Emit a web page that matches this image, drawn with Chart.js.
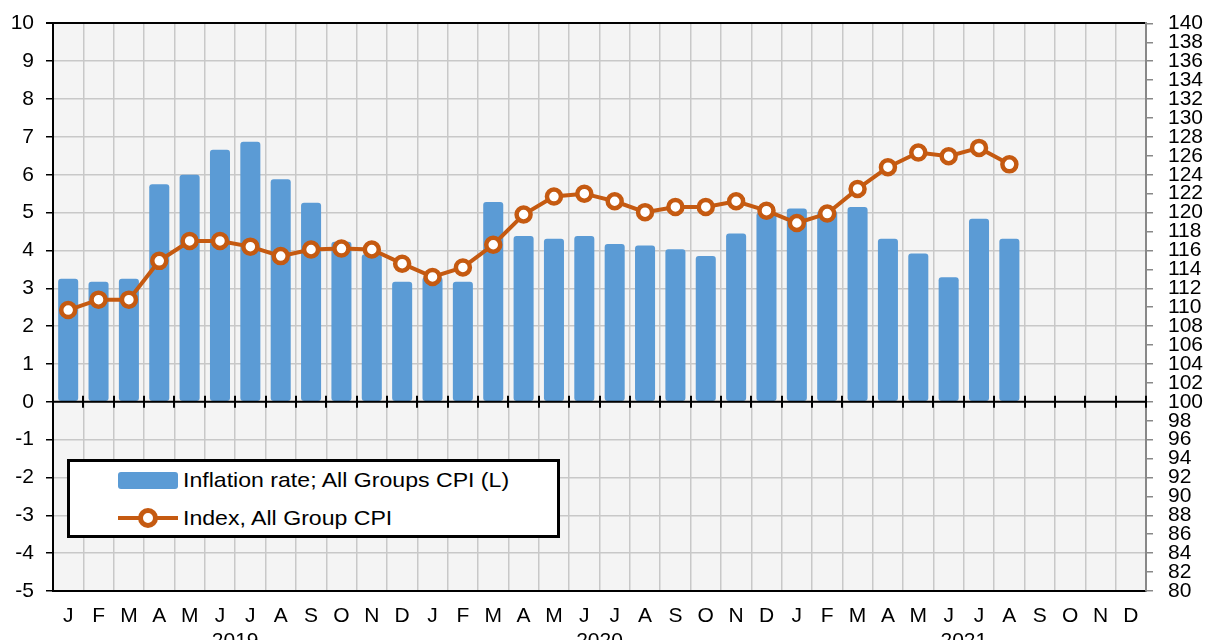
<!DOCTYPE html>
<html>
<head>
<meta charset="utf-8">
<script src="https://cdn.jsdelivr.net/npm/chart.js@4/dist/chart.umd.min.js"></script>
<style>
  html, body { margin: 0; padding: 0; background: #fff; }
  #wrap { position: relative; width: 1208px; height: 640px; overflow: hidden; }
  #legend {
    position: absolute; left: 67px; top: 459px; width: 487px; height: 73px;
    border: 3px solid #000; background: #fff;
    font-family: "Liberation Sans", Arial, sans-serif; font-size: 21px; color: #000;
  }
  .sym-bar { position: absolute; left: 48px; top: 10px; width: 60px; height: 17px; background: #5b9bd5; border-radius: 3px; }
  .sym-line { position: absolute; left: 48px; top: 54px; width: 60px; height: 4px; background: #c55a11; }
  .sym-dot { position: absolute; left: 68px; top: 46px; width: 10px; height: 10px; border: 5px solid #c55a11; border-radius: 50%; background: #fff; }
  .txt { position: absolute; left: 113px; line-height: 24px; white-space: nowrap; transform: scaleX(1.1); transform-origin: left center; }
</style>
</head>
<body>
<div id="wrap">
  <canvas id="cpiChart" width="1208" height="640"></canvas>
  <div id="legend">
    <div class="sym-bar"></div>
    <div class="txt" style="top:6px">Inflation rate; All Groups CPI (L)</div>
    <div class="sym-line"></div>
    <div class="sym-dot"></div>
    <div class="txt" style="top:44px">Index, All Group CPI</div>
  </div>
</div>
<script>
const months = ["J", "F", "M", "A", "M", "J", "J", "A", "S", "O", "N", "D"];
const monthLabels = [...months, ...months, ...months];
const years = ["2019", "2020", "2021"];

// inflation rate, % (left axis)
const inflationRate = [
  3.25, 3.17, 3.25, 5.75, 6.0, 6.66, 6.87, 5.88, 5.26, 4.23, 3.9, 3.17,
  3.3, 3.17, 5.28, 4.38, 4.31, 4.38, 4.17, 4.13, 4.03, 3.85, 4.45, 5.0,
  5.11, 5.05, 5.15, 4.31, 3.92, 3.29, 4.84, 4.31, null, null, null, null
];

// CPI index (right axis)
const cpiIndex = [
  109.7, 110.8, 110.8, 114.9, 117.0, 117.0, 116.4, 115.4, 116.1, 116.2, 116.1, 114.6,
  113.2, 114.2, 116.6, 119.8, 121.7, 122.0, 121.2, 120.05, 120.6, 120.6, 121.2, 120.2,
  118.9, 119.9, 122.5, 124.8, 126.35, 125.96, 126.84, 125.1, null, null, null, null
];

const leftTicks = { min: -5, max: 10, step: 1 };
const rightTicks = { min: 80, max: 140, step: 2 };

const fontFamily = "'Liberation Sans', Arial, sans-serif";
const gridGray = "#c8c8c8";

const plotBackground = {
  id: "plotBackground",
  beforeDraw(chart) {
    const { ctx, chartArea: a } = chart;
    ctx.save();
    ctx.fillStyle = "#f4f4f4";
    ctx.fillRect(a.left, a.top, a.right - a.left, a.bottom - a.top);
    ctx.restore();
  },
};

const zeroLine = {
  id: "zeroLine",
  afterDatasetsDraw(chart) {
    const { ctx, chartArea: a } = chart;
    const x = chart.scales.x;
    const y0 = chart.scales.y.getPixelForValue(0);
    const n = monthLabels.length;
    ctx.save();
    ctx.strokeStyle = "#000";
    ctx.lineWidth = 2;
    ctx.beginPath();
    ctx.moveTo(a.left, y0);
    ctx.lineTo(a.right, y0);
    for (let i = 0; i <= n; i++) {
      const px = Math.round(x.left + (i * x.width) / n);
      ctx.moveTo(px, y0 - 6);
      ctx.lineTo(px, y0 + 6);
    }
    ctx.stroke();
    ctx.restore();
  },
};

const yearLabels = {
  id: "yearLabels",
  afterDraw(chart) {
    const { ctx } = chart;
    const x = chart.scales.x;
    ctx.save();
    ctx.fillStyle = "#000";
    ctx.font = "21px " + fontFamily;
    ctx.textAlign = "center";
    ctx.textBaseline = "alphabetic";
    years.forEach((yr, i) => {
      const px = (x.getPixelForValue(i * 12 + 5) + x.getPixelForValue(i * 12 + 6)) / 2;
      ctx.fillText(yr, px, 647);
    });
    ctx.restore();
  },
};

const ctx = document.getElementById("cpiChart").getContext("2d");

new Chart(ctx, {
  data: {
    labels: monthLabels,
    datasets: [
      {
        type: "line",
        label: "Index, All Group CPI",
        data: cpiIndex,
        yAxisID: "y1",
        borderColor: "#c55a11",
        borderWidth: 4,
        tension: 0,
        pointRadius: 7,
        pointBorderWidth: 4.5,
        pointBackgroundColor: "#fff",
        pointBorderColor: "#c55a11",
        order: 0,
      },
      {
        type: "bar",
        label: "Inflation rate; All Groups CPI (L)",
        data: inflationRate,
        yAxisID: "y",
        backgroundColor: "#5b9bd5",
        borderRadius: 3,
        borderSkipped: false,
        barPercentage: 0.66,
        categoryPercentage: 1,
        order: 1,
      },
    ],
  },
  options: {
    responsive: false,
    animation: false,
    layout: { padding: { top: 23, left: 0, right: 0, bottom: 0 } },
    scales: {
      x: {
        offset: true,
        grid: { offset: true, color: gridGray, lineWidth: 1.5, drawTicks: false },
        border: { color: "#000", width: 2 },
        ticks: {
          color: "#000",
          font: { family: fontFamily, size: 21 },
          padding: 13,
          maxRotation: 0,
          autoSkip: false,
        },
        afterFit(scale) { scale.height = 49; },
      },
      y: {
        position: "left",
        min: leftTicks.min,
        max: leftTicks.max,
        ticks: {
          stepSize: leftTicks.step,
          maxTicksLimit: 100,
          autoSkip: false,
          color: "#000",
          font: { family: fontFamily, size: 21, lineHeight: 0.8 },
          padding: 12,
        },
        grid: {
          color: (c) => (c.tick && c.tick.value === 10 ? "#000" : gridGray),
          lineWidth: (c) => (c.tick && c.tick.value === 10 ? 2 : 1.5),
          tickColor: "#000",
          tickLength: 7,
        },
        border: { color: "#000", width: 2 },
        afterFit(scale) { scale.width = 53; },
      },
      y1: {
        position: "right",
        min: rightTicks.min,
        max: rightTicks.max,
        ticks: {
          stepSize: rightTicks.step,
          maxTicksLimit: 100,
          autoSkip: false,
          color: "#000",
          font: { family: fontFamily, size: 21, lineHeight: 0.8 },
          padding: 15,
        },
        grid: { drawOnChartArea: false, tickColor: "#888", tickLength: 7, lineWidth: 1.5 },
        border: { color: "#888", width: 2 },
        afterFit(scale) { scale.width = 62; },
      },
    },
    plugins: {
      legend: { display: false },
      tooltip: { enabled: false },
    },
  },
  plugins: [plotBackground, zeroLine, yearLabels],
});
</script>
</body>
</html>
